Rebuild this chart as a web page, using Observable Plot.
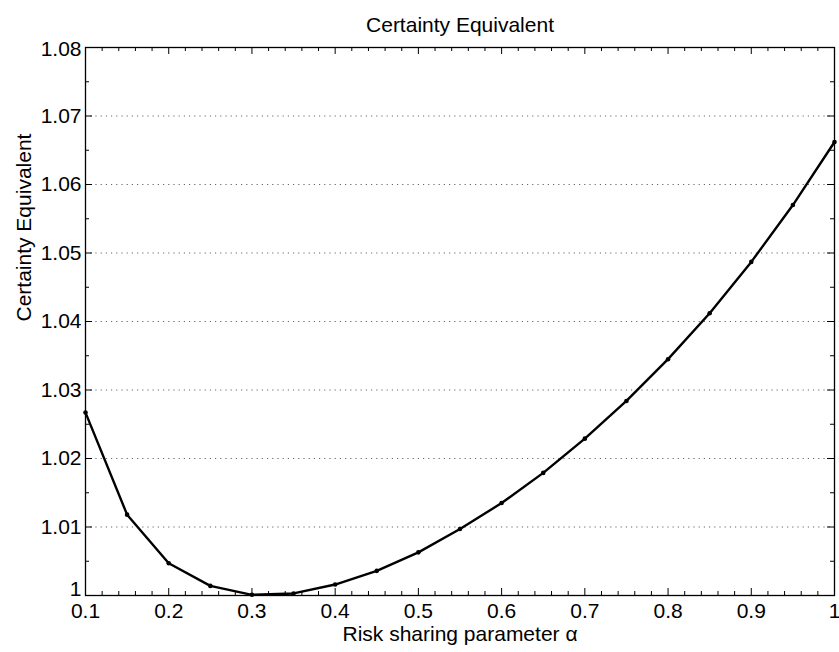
<!DOCTYPE html>
<html>
<head>
<meta charset="utf-8">
<script src="https://cdn.jsdelivr.net/npm/d3@7"></script>
<script src="https://cdn.jsdelivr.net/npm/@observablehq/plot@0.6"></script>
<style>
  html, body { margin: 0; padding: 0; background: #fff; }
  #chart svg { display: block; }
</style>
</head>
<body>
<div id="chart"></div>
<script>
// Data
const alpha = [0.10, 0.15, 0.20, 0.25, 0.30, 0.35, 0.40, 0.45, 0.50, 0.55,
               0.60, 0.65, 0.70, 0.75, 0.80, 0.85, 0.90, 0.95, 1.00];
const certaintyEquivalent = [1.0267, 1.0118, 1.0047, 1.0014, 1.0001, 1.0003, 1.0016, 1.0036, 1.0063, 1.0097,
                             1.0135, 1.0179, 1.0229, 1.0284, 1.0345, 1.0412, 1.0487, 1.0570, 1.0662];

// Ticks and labels
const xTicks = [0.1, 0.2, 0.3, 0.4, 0.5, 0.6, 0.7, 0.8, 0.9, 1.0];
const xTickLabels = ["0.1", "0.2", "0.3", "0.4", "0.5", "0.6", "0.7", "0.8", "0.9", "1"];
const yTicks = [1.00, 1.01, 1.02, 1.03, 1.04, 1.05, 1.06, 1.07, 1.08];
const yTickLabels = ["1", "1.01", "1.02", "1.03", "1.04", "1.05", "1.06", "1.07", "1.08"];
const xMinor = d3.range(0, 46).map(i => +(0.1 + i * 0.02).toFixed(2)).filter(v => Math.abs(v * 10 - Math.round(v * 10)) > 1e-6);
const yMinor = d3.range(0, 8).map(i => +(1.005 + i * 0.01).toFixed(3));

const title = "Certainty Equivalent";
const xLabel = "Risk sharing parameter α";
const yLabel = "Certainty Equivalent";

const W = 839, H = 652;
const mL = 85, mR = 5, mT = 47, mB = 57;
const pw = W - mL - mR, ph = H - mT - mB;
const majorLen = 7, minorLen = 4;

const data = alpha.map((a, i) => ({a, ce: certaintyEquivalent[i]}));
const midY = yTicks.map((v, i) => ({v, t: yTickLabels[i]})).slice(1, -1);
const topY = [{v: yTicks[yTicks.length - 1], t: yTickLabels[yTickLabels.length - 1]}];
const botY = [{v: yTicks[0], t: yTickLabels[0]}];
const xt = xTicks.map((v, i) => ({v, t: xTickLabels[i]}));

const chart = Plot.plot({
  width: W, height: H,
  marginLeft: mL, marginRight: mR, marginTop: mT, marginBottom: mB,
  style: {fontFamily: "'Liberation Sans', Arial, Helvetica, sans-serif", fontSize: "21px", color: "#000", background: "#fff"},
  x: {domain: [0.1, 1], axis: null},
  y: {domain: [1, 1.08], axis: null},
  marks: [
    Plot.gridY(yTicks.slice(1, -1), {stroke: "#666", strokeOpacity: 1, strokeWidth: 1, strokeDasharray: "1.2,4"}),
    // ticks (inside, all four sides)
    Plot.tickX(xTicks, {x: d => d, stroke: "#000", insetTop: ph - majorLen}),
    Plot.tickX(xTicks, {x: d => d, stroke: "#000", insetBottom: ph - majorLen}),
    Plot.tickX(xMinor, {x: d => d, stroke: "#000", insetTop: ph - minorLen}),
    Plot.tickX(xMinor, {x: d => d, stroke: "#000", insetBottom: ph - minorLen}),
    Plot.tickY(yTicks, {y: d => d, stroke: "#000", insetRight: pw - majorLen}),
    Plot.tickY(yTicks, {y: d => d, stroke: "#000", insetLeft: pw - majorLen}),
    Plot.tickY(yMinor, {y: d => d, stroke: "#000", insetRight: pw - minorLen}),
    Plot.tickY(yMinor, {y: d => d, stroke: "#000", insetLeft: pw - minorLen}),
    Plot.frame({stroke: "#000", strokeWidth: 1.3}),
    // tick labels
    Plot.text(xt, {x: "v", text: "t", frameAnchor: "bottom", lineAnchor: "top", dy: 8, fontSize: 21}),
    Plot.text(midY, {y: "v", text: "t", frameAnchor: "left", textAnchor: "end", dx: -4, fontSize: 21}),
    Plot.text(topY, {y: "v", text: "t", frameAnchor: "left", textAnchor: "end", dx: -4, dy: 2, fontSize: 21}),
    Plot.text(botY, {y: "v", text: "t", frameAnchor: "left", textAnchor: "end", dx: -4, lineAnchor: "bottom", dy: 0, fontSize: 21}),
    // data
    Plot.line(data, {x: "a", y: "ce", stroke: "#000", strokeWidth: 2.4}),
    Plot.dot(data, {x: "a", y: "ce", r: 2.3, fill: "#000", stroke: null}),
    // titles
    Plot.text([title], {text: d => d, frameAnchor: "top", lineAnchor: "bottom", dy: -16, fontSize: 21}),
    Plot.text([xLabel], {text: d => d, frameAnchor: "bottom", lineAnchor: "bottom", dy: 45, fontSize: 21}),
    Plot.text([yLabel], {text: d => d, frameAnchor: "left", rotate: -90, dx: -61, fontSize: 21})
  ]
});
document.getElementById("chart").append(chart);
</script>
</body>
</html>
